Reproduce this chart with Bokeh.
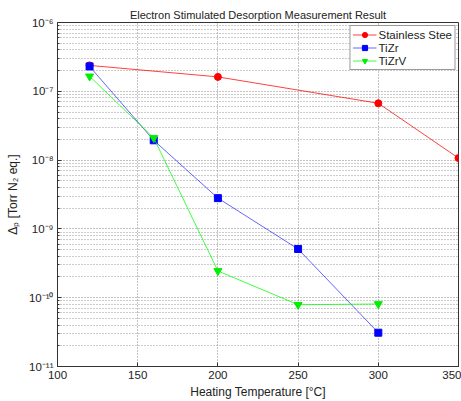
from bokeh.plotting import figure
from bokeh.models import Range1d, FixedTicker, CustomJSTickFormatter, Legend, LegendItem
from bokeh.embed import file_html
from bokeh.resources import INLINE

# Data
temps_ss = [120, 200, 300, 350]
vals_ss = [2.38e-7, 1.62e-7, 6.7e-8, 1.07e-8]
temps_tizr = [120, 160, 200, 250, 300]
vals_tizr = [2.3e-7, 1.94e-8, 2.8e-9, 5.1e-10, 3.1e-11]
temps_tizrv = [120, 160, 200, 250, 300]
vals_tizrv = [1.65e-7, 2.1e-8, 2.45e-10, 7.9e-11, 8.1e-11]
series_names = ["Stainless Stee", "TiZr", "TiZrV"]
x_ticks = [100, 150, 200, 250, 300, 350]
y_major = [1e-11, 1e-10, 1e-9, 1e-8, 1e-7, 1e-6]

FONT = "Liberation Sans"

p = figure(width=461, height=401, output_backend="svg", toolbar_location=None,
           y_axis_type="log",
           x_range=Range1d(100, 350), y_range=Range1d(1e-11, 1e-6),
           min_border_left=57, min_border_right=3, min_border_top=22, min_border_bottom=34)

p.title.text = "Electron Stimulated Desorption Measurement Result"
p.title.align = "center"
p.title.text_font = FONT
p.title.text_font_style = "normal"
p.title.text_font_size = "11px"
p.title.text_color = "#222222"
p.title.offset = 0
p.title.standoff = 4

p.outline_line_color = "#333333"
p.outline_line_width = 1
p.background_fill_color = "white"
p.border_fill_color = "white"

minor = []
for d in y_major[:-1]:
    for k in range(2, 10):
        minor.append(d * k)

p.xaxis.ticker = FixedTicker(ticks=x_ticks)
p.yaxis.ticker = FixedTicker(ticks=y_major, minor_ticks=minor)
p.yaxis.formatter = CustomJSTickFormatter(code="""
const sup = {'-':'\u207b','0':'\u2070','1':'\u00b9','2':'\u00b2','3':'\u00b3','4':'\u2074','5':'\u2075','6':'\u2076','7':'\u2077','8':'\u2078','9':'\u2079'};
const e = Math.round(Math.log10(tick));
return '10' + String(e).split('').map(c => sup[c]).join('');
""")

for ax in (p.xaxis, p.yaxis):
    ax.major_tick_in = 4
    ax.major_tick_out = 0
    ax.minor_tick_in = 2
    ax.minor_tick_out = 0
    ax.axis_line_color = "#333333"
    ax.major_tick_line_color = "#333333"
    ax.minor_tick_line_color = "#333333"
    ax.major_label_text_font = FONT
    ax.major_label_text_font_size = "11.5px"
    ax.major_label_text_color = "#222222"
    ax.axis_label_text_font = FONT
    ax.axis_label_text_font_size = "12px"
    ax.axis_label_text_font_style = "normal"
    ax.axis_label_text_color = "#222222"
p.xaxis.minor_tick_line_color = None
p.xaxis.axis_label = "Heating Temperature [\u00b0C]"
p.yaxis.axis_label = "\u0394\u209a [Torr N\u2082 eq.]"
p.xaxis.major_label_standoff = 4
p.yaxis.major_label_standoff = 4
p.xaxis.axis_label_standoff = 3
p.yaxis.axis_label_standoff = 6

p.xgrid.grid_line_color = "#888888"
p.xgrid.grid_line_dash = "1 2"
p.ygrid.grid_line_color = "#888888"
p.ygrid.grid_line_dash = "1 2"
p.ygrid.minor_grid_line_color = "#999999"
p.ygrid.minor_grid_line_dash = "1 2"

l1 = p.line(temps_ss, vals_ss, line_color="#ff0000", line_width=1, line_alpha=0.75)
m1 = p.scatter(temps_ss, vals_ss, marker="circle", size=7, fill_color="#ff0000", line_color="#ff0000")
l2 = p.line(temps_tizr, vals_tizr, line_color="#0000ff", line_width=1, line_alpha=0.6)
m2 = p.scatter(temps_tizr, vals_tizr, marker="square", size=7, fill_color="#0000ff", line_color="#0000ff")
l3 = p.line(temps_tizrv, vals_tizrv, line_color="#00ff00", line_width=1, line_alpha=0.75)
m3 = p.scatter(temps_tizrv, vals_tizrv, marker="inverted_triangle", size=8, fill_color="#00ee00", line_color="#00ee00")

legend = Legend(items=[
    LegendItem(label=series_names[0], renderers=[l1, m1]),
    LegendItem(label=series_names[1], renderers=[l2, m2]),
    LegendItem(label=series_names[2], renderers=[l3, m3]),
], location="top_right")
legend.label_text_font = FONT
legend.label_text_font_size = "11.5px"
legend.label_text_color = "#222222"
legend.border_line_color = "#333333"
legend.background_fill_alpha = 1
legend.margin = 3
legend.padding = 2
legend.spacing = 0
legend.label_height = 13
legend.glyph_height = 13
legend.glyph_width = 24
legend.label_standoff = 2
p.add_layout(legend)

open("out.html", "w").write(file_html(p, INLINE))
